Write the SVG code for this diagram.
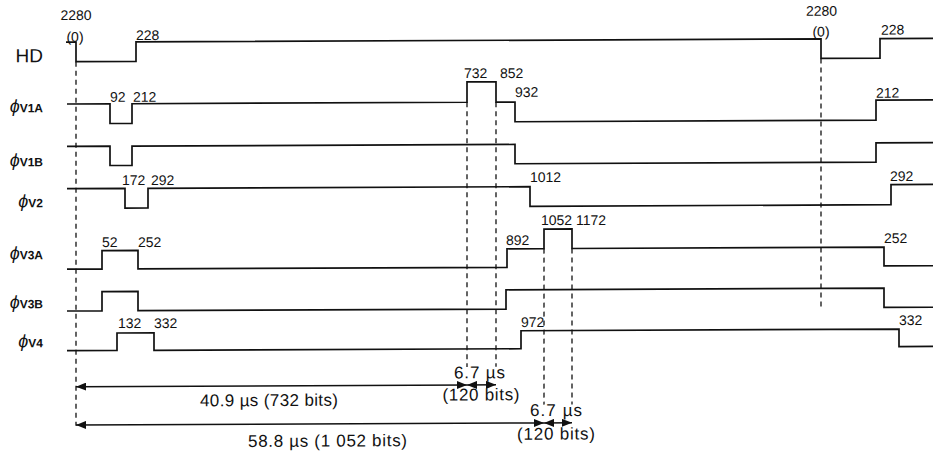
<svg xmlns="http://www.w3.org/2000/svg" width="933" height="452" viewBox="0 0 933 452">
<defs>
<style>
.sig{fill:none;stroke:#111;stroke-width:1.7;stroke-linejoin:miter}
.dash{fill:none;stroke:#111;stroke-width:1.3;stroke-dasharray:5 4}
.dim{fill:none;stroke:#111;stroke-width:1.5}
.num{font-family:"Liberation Sans",Arial,sans-serif;font-size:14px;fill:#111}
.lbl{font-family:"Liberation Sans",Arial,sans-serif;fill:#111}
.phi{font-size:18px;font-style:italic}
.sub{font-size:12px;font-weight:bold}
.meas{font-family:"Liberation Sans",Arial,sans-serif;font-size:17px;fill:#111}
</style>
<marker id="ah" viewBox="0 0 10 8" refX="10" refY="4" markerWidth="10" markerHeight="8" markerUnits="userSpaceOnUse" orient="auto-start-reverse">
<path d="M0,0 L10,4 L0,8 Z" fill="#111"/>
</marker>
</defs>
<rect width="933" height="452" fill="#fff"/>
<g transform="skewY(-0.25)">
<g id="HD">
<text class="lbl" x="43" y="62.3" text-anchor="end" font-size="19">HD</text>
<polyline class="sig" points="66,42.5 76,42.5 76,62 136,62 136,42.5 821,42.5 821,62 880,62 880,42.5 933,42.5"/>
<text class="num" x="76" y="20.3" text-anchor="middle">2280</text>
<text class="num" x="75" y="42" text-anchor="middle">(0)</text>
<text class="num" x="136" y="40.6">228</text>
<text class="num" x="821.5" y="19.3" text-anchor="middle">2280</text>
<text class="num" x="821" y="40" text-anchor="middle">(0)</text>
<text class="num" x="881" y="38.5">228</text>
</g>
<g id="V1A">
<text class="lbl" x="43" y="112.3" text-anchor="end"><tspan class="phi">ϕ</tspan><tspan class="sub">V1A</tspan></text>
<polyline class="sig" points="67,104.3 110,104.3 110,124 132,124 132,104.3 467,104.3 467,84 496,84 496,104.3 515,104.3 515,124 876,124 876,104 933,104"/>
<text class="num" x="110" y="102.2">92</text>
<text class="num" x="133" y="102.3">212</text>
<text class="num" x="464" y="80">732</text>
<text class="num" x="500" y="80.2">852</text>
<text class="num" x="515" y="99.2">932</text>
<text class="num" x="876" y="101.5">212</text>
</g>
<g id="V1B">
<text class="lbl" x="43" y="166.4" text-anchor="end"><tspan class="phi">ϕ</tspan><tspan class="sub">V1B</tspan></text>
<polyline class="sig" points="67,146.7 110,146.7 110,166 132,166 132,146.7 515,146.7 515,166 876,166 876,146.7 933,146.7"/>
</g>
<g id="V2">
<text class="lbl" x="43" y="207.4" text-anchor="end"><tspan class="phi">ϕ</tspan><tspan class="sub">V2</tspan></text>
<polyline class="sig" points="67,189 125,189 125,208.6 148,208.6 148,189 530,189 530,208.6 891,208.6 891,188.5 933,188.5"/>
<text class="num" x="122" y="185.6">172</text>
<text class="num" x="151" y="185.7">292</text>
<text class="num" x="530" y="184.3">1012</text>
<text class="num" x="890" y="184.9">292</text>
</g>
<g id="V3A">
<text class="lbl" x="43" y="259.4" text-anchor="end"><tspan class="phi">ϕ</tspan><tspan class="sub">V3A</tspan></text>
<polyline class="sig" points="67,269.5 102,269.5 102,251 138,251 138,269.5 507,269.5 507,251 544,251 544,231.4 572,231.4 572,251 884,251 884,269.8 933,269.8"/>
<text class="num" x="102" y="247.5">52</text>
<text class="num" x="138" y="247.6">252</text>
<text class="num" x="506" y="247.2">892</text>
<text class="num" x="541" y="227.4">1052</text>
<text class="num" x="576" y="227.5">1172</text>
<text class="num" x="884" y="246.9">252</text>
</g>
<g id="V3B">
<text class="lbl" x="43" y="308.4" text-anchor="end"><tspan class="phi">ϕ</tspan><tspan class="sub">V3B</tspan></text>
<polyline class="sig" points="67,311.3 102,311.3 102,292 138,292 138,311.3 506,311.3 506,292 884,292 884,311.3 933,311.3"/>
</g>
<g id="V4">
<text class="lbl" x="43" y="347.4" text-anchor="end"><tspan class="phi">ϕ</tspan><tspan class="sub">V4</tspan></text>
<polyline class="sig" points="67,351 117,351 117,333.5 154,333.5 154,351 521,351 521,333 899,333 899,350.5 933,350.5"/>
<text class="num" x="118" y="328.5">132</text>
<text class="num" x="154" y="328.7">332</text>
<text class="num" x="521" y="329.3">972</text>
<text class="num" x="899" y="328.9">332</text>
</g>
<g id="connectors">
<line class="dash" x1="76" y1="62" x2="76" y2="426"/>
<line class="dash" x1="467" y1="104.3" x2="467" y2="369"/>
<line class="dash" x1="496" y1="104.3" x2="496" y2="369"/>
<line class="dash" x1="544" y1="251" x2="544" y2="407"/>
<line class="dash" x1="572" y1="251" x2="572" y2="407"/>
<line class="dash" x1="821" y1="62" x2="821" y2="310.6"/>
<line class="dim" x1="76" y1="387" x2="467" y2="387" marker-start="url(#ah)" marker-end="url(#ah)"/>
<line class="dim" x1="467" y1="387" x2="496" y2="387" marker-start="url(#ah)" marker-end="url(#ah)"/>
<line class="dim" x1="76" y1="425.3" x2="544" y2="425.3" marker-start="url(#ah)" marker-end="url(#ah)"/>
<line class="dim" x1="544" y1="425.3" x2="572" y2="425.3" marker-start="url(#ah)" marker-end="url(#ah)"/>
</g>
<g id="measures">
<text class="meas" x="479.5" y="380.4" text-anchor="middle" textLength="51" lengthAdjust="spacing">6.7 µs</text>
<text class="meas" x="481" y="402.5" text-anchor="middle" textLength="77" lengthAdjust="spacing">(120 bits)</text>
<text class="meas" x="269" y="407.2" text-anchor="middle" textLength="138" lengthAdjust="spacing">40.9 µs (732 bits)</text>
<text class="meas" x="556" y="418.4" text-anchor="middle" textLength="52" lengthAdjust="spacing">6.7 µs</text>
<text class="meas" x="556" y="442" text-anchor="middle" textLength="78" lengthAdjust="spacing">(120 bits)</text>
<text class="meas" x="327.5" y="448" text-anchor="middle" textLength="159" lengthAdjust="spacing">58.8 µs (1 052 bits)</text>
</g>
</g>
</svg>
